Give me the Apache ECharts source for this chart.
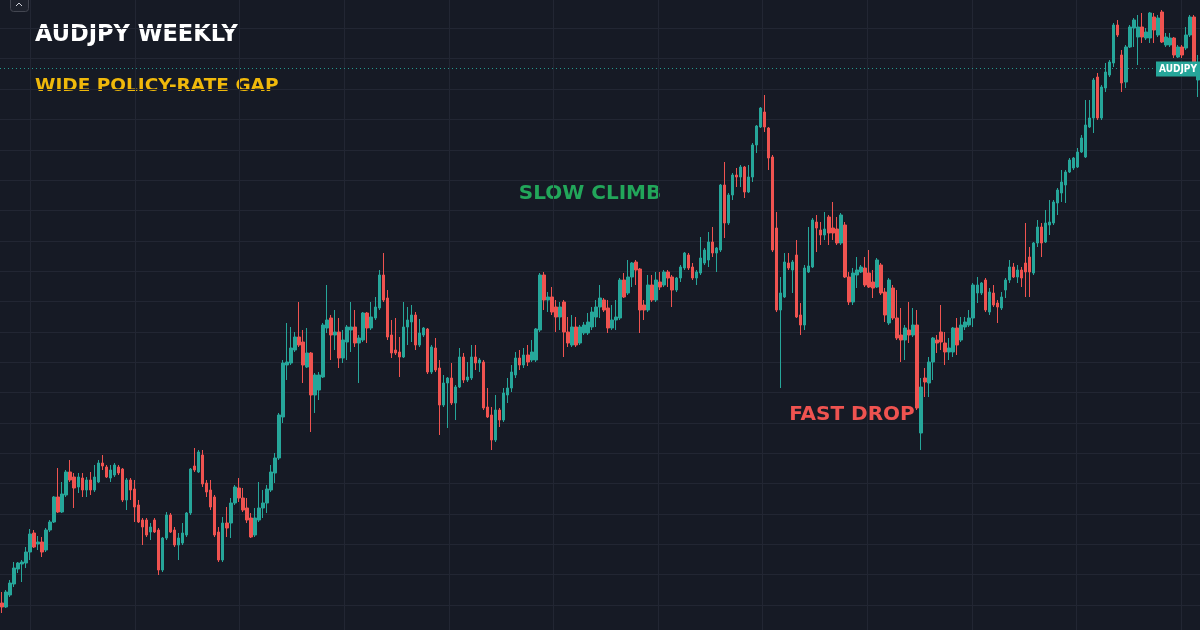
<!DOCTYPE html>
<html>
<head>
<meta charset="utf-8">
<script src="https://cdn.jsdelivr.net/npm/echarts@6/dist/echarts.min.js"></script>
<style>
html,body{margin:0;padding:0;background:#161a25;}
#chart{width:1200px;height:630px;}
</style>
</head>
<body>
<div id="chart"></div>
<script>
// Weekly AUDJPY candles
const opens = [
49.7,49.3,50.5,51.6,53.1,53.6,53.7,54.8,56.7,55.6,
55.8,55.0,57.0,57.8,60.3,58.8,60.5,62.8,62.3,61.3,
62.2,61.0,62.0,61.0,61.8,63.7,63.3,62.2,62.5,63.3,
63.1,60.0,62.0,61.1,59.5,58.0,58.0,56.8,58.0,57.0,
53.0,56.2,58.5,57.0,55.5,55.7,56.5,58.7,63.4,62.8,
64.5,61.7,61.0,60.3,56.8,54.0,57.7,57.7,59.7,61.2,
60.2,59.2,58.2,56.5,58.0,59.2,59.7,61.0,62.7,64.2,
68.3,73.5,73.7,75.0,76.3,75.8,73.3,74.7,70.5,71.0,
72.3,77.2,78.2,76.5,76.8,74.2,75.8,77.0,77.3,75.7,
76.0,78.7,77.2,78.2,79.2,82.5,80.2,76.5,75.0,74.8,
74.3,77.3,77.8,78.5,75.5,76.5,77.1,72.8,75.2,73.2,
69.5,71.7,72.2,69.7,71.3,74.3,72.0,72.2,74.3,73.7,
73.8,69.3,68.5,66.0,69.0,68.0,70.5,71.2,72.5,74.2,
73.5,74.5,74.0,74.0,77.0,82.5,80.0,80.3,79.3,78.3,
79.8,76.8,75.5,77.3,75.7,76.7,76.7,77.3,78.3,79.3,
80.0,79.2,77.2,78.0,78.2,82.0,80.7,82.3,83.8,83.1,
79.5,79.0,81.5,80.0,81.8,81.5,82.8,82.3,81.0,82.2,
83.2,84.5,83.3,82.2,82.7,83.7,84.0,85.8,84.7,85.0,
91.5,87.7,90.5,92.5,92.3,93.3,90.8,92.3,95.5,97.3,
98.8,97.2,94.3,87.2,79.0,80.3,83.7,83.0,84.5,78.5,
77.5,82.8,83.3,87.8,87.0,86.5,88.3,87.2,87.1,85.7,
87.5,82.3,79.8,82.5,82.8,83.2,82.7,81.8,81.3,83.5,
80.8,77.7,81.2,78.2,76.5,76.0,77.0,76.5,77.5,66.7,
72.2,71.7,73.8,76.0,76.8,75.7,74.8,74.8,77.2,76.0,
77.3,77.5,78.2,80.7,80.7,82.0,78.8,80.7,79.7,79.2,
81.0,82.0,83.3,82.3,83.0,83.7,84.3,82.7,85.7,87.3,
85.8,87.5,87.7,89.7,90.7,91.5,92.8,93.2,93.3,94.8,
94.3,97.3,98.2,102.3,98.2,101.2,102.5,103.7,107.5,104.5,
101.8,105.3,107.2,106.3,107.3,106.2,106.2,108.3,106.5,108.8,
105.5,105.5,106.2,104.3,105.3,105.2,106.5,108.3,102.0
];
const closes = [
49.3,50.8,51.7,53.2,53.7,53.8,54.8,56.6,55.3,55.8,
54.8,57.0,57.8,60.3,58.8,60.6,62.8,62.0,61.2,62.3,
61.0,62.0,61.0,62.3,63.7,63.4,62.3,63.0,63.5,62.7,
60.0,62.0,61.0,59.3,57.8,57.3,56.5,57.3,56.8,53.0,
56.2,58.5,56.8,55.5,56.2,56.7,58.7,63.1,63.0,64.8,
61.6,60.8,59.3,56.5,54.0,57.7,57.2,59.7,61.3,60.2,
59.0,58.0,56.3,58.2,59.2,59.7,61.1,62.8,64.2,68.5,
73.7,73.8,75.2,76.3,75.5,73.5,74.7,70.5,72.5,72.5,
77.5,78.0,76.5,76.8,74.2,76.0,77.3,77.3,75.7,76.2,
78.7,77.2,78.3,79.3,82.5,80.0,76.3,74.7,74.7,74.3,
77.3,78.0,78.5,75.5,76.7,77.2,72.8,75.3,73.0,69.5,
71.7,72.2,69.7,71.3,74.3,72.0,72.3,74.3,73.7,74.0,
69.2,68.3,66.0,69.0,68.0,70.7,71.2,72.8,74.2,73.5,
74.5,73.8,74.8,77.1,82.5,80.0,80.3,78.8,78.3,79.3,
76.8,75.7,77.3,75.5,77.3,77.5,77.8,78.8,79.3,80.2,
79.0,77.2,78.0,78.3,82.0,80.3,82.3,83.7,83.0,79.0,
79.0,81.5,80.0,82.0,81.3,82.8,82.2,81.0,82.2,83.3,
84.7,83.2,82.2,82.8,84.2,85.0,85.8,84.7,85.2,91.5,
87.7,90.5,92.5,92.3,93.3,90.8,92.3,95.5,97.4,99.2,
97.3,94.2,85.0,79.0,80.7,83.8,83.2,83.8,78.3,77.5,
83.2,83.4,88.0,87.2,86.5,87.1,86.7,86.7,85.7,88.5,
82.3,79.8,82.7,83.0,83.3,81.5,81.3,81.2,84.0,80.7,
78.5,82.0,78.2,76.2,76.0,77.2,76.5,77.5,69.2,71.3,
71.8,73.8,76.2,75.7,75.8,74.8,75.2,77.2,75.5,77.5,
77.8,78.2,81.5,81.5,81.7,79.0,80.8,79.5,79.3,80.3,
82.0,83.3,82.3,83.0,82.2,82.8,82.8,85.7,87.3,85.7,
87.7,87.8,89.8,91.0,91.8,92.8,94.0,94.2,94.8,96.2,
97.5,98.2,102.0,98.2,101.3,102.8,103.8,107.5,106.5,101.7,
105.3,107.3,108.0,107.3,106.3,106.8,108.7,107.0,108.2,105.8,
106.3,106.2,104.5,105.3,104.5,106.5,108.3,103.8,103.2
];
const lows = [
48.7,49.2,50.3,51.3,52.7,51.8,53.2,54.0,55.2,55.0,
54.3,54.8,56.8,57.7,58.7,58.7,60.3,61.8,59.2,60.7,
60.3,60.3,60.5,60.8,61.7,63.0,62.2,61.8,62.3,62.5,
59.8,59.0,60.0,57.8,57.7,55.5,56.3,56.0,56.7,52.5,
52.8,56.0,56.7,55.3,54.0,55.5,56.3,58.5,62.8,62.7,
61.3,60.3,59.0,56.3,53.8,53.8,56.3,56.2,59.5,59.8,
58.8,57.7,56.2,56.3,57.8,58.2,58.7,60.8,61.7,64.0,
67.7,72.0,73.5,74.8,75.3,71.7,73.2,66.8,68.7,70.0,
72.2,76.7,74.0,75.0,73.2,73.7,74.0,74.8,75.3,71.7,
75.8,75.7,77.0,78.0,79.0,79.8,76.0,74.2,74.5,72.3,
74.2,75.5,75.8,75.0,75.3,76.3,72.6,72.6,72.8,66.5,
69.3,67.2,69.5,68.0,71.2,71.7,71.8,72.0,73.0,72.8,
69.0,68.2,65.0,65.8,67.3,67.8,69.7,70.8,72.2,73.0,
73.2,73.4,73.8,73.8,76.8,79.0,78.8,78.5,76.8,77.0,
74.3,75.3,75.3,75.3,75.5,76.5,76.5,77.0,77.3,78.2,
78.8,76.7,77.0,77.0,78.0,80.2,80.5,81.3,81.5,76.7,
78.0,78.8,79.8,79.8,81.0,81.3,81.3,79.3,80.8,81.8,
83.0,83.0,82.0,81.5,82.5,83.5,83.3,84.3,82.8,84.8,
86.2,87.5,90.0,91.3,91.3,90.2,90.7,91.8,94.7,97.2,
96.8,93.0,84.8,78.8,71.2,80.2,83.0,80.7,78.2,76.5,
77.0,82.7,83.2,84.8,85.5,86.0,85.5,86.0,85.5,85.5,
82.2,79.5,79.5,81.2,82.7,81.3,81.2,80.2,81.2,80.5,
77.8,77.5,78.0,76.0,73.8,74.0,75.7,76.3,69.0,65.0,
70.3,70.3,72.0,74.7,75.0,73.5,74.0,74.3,74.5,75.8,
77.0,77.3,77.3,79.7,80.5,78.8,78.5,79.3,77.7,79.0,
80.2,81.7,82.2,81.7,81.3,80.3,80.3,82.5,85.3,84.3,
85.7,86.5,87.5,88.5,89.8,89.7,92.7,93.0,93.2,94.7,
94.2,97.2,96.7,98.0,98.0,100.8,102.3,103.3,106.3,100.8,
101.2,105.2,105.3,103.5,105.7,106.0,105.7,105.7,106.3,105.7,
105.3,105.3,104.2,104.2,104.2,105.0,106.3,103.3,100.3
];
const highs = [
50.8,51.0,52.0,53.8,53.8,54.0,55.3,57.1,57.0,56.4,
56.3,57.2,58.0,60.4,63.2,61.8,63.0,64.0,62.7,62.7,
62.7,62.3,62.8,63.5,64.0,64.5,63.5,63.5,63.7,63.5,
63.2,62.2,62.2,62.0,60.0,58.2,58.2,57.7,58.2,57.2,
56.3,58.8,58.7,57.3,56.7,57.7,58.8,63.2,65.2,65.0,
65.0,62.0,62.0,60.5,57.3,58.3,59.3,60.2,61.5,62.2,
61.2,60.2,58.7,59.2,61.8,61.0,61.5,63.5,64.7,68.7,
74.0,77.7,77.3,76.8,79.8,77.0,77.2,74.8,72.7,72.8,
77.7,81.5,78.5,79.0,78.2,77.0,77.5,79.8,79.0,76.5,
78.8,78.8,79.8,80.3,83.0,84.7,81.0,78.0,78.2,76.3,
79.8,79.3,79.5,78.8,78.1,77.3,77.2,75.5,76.2,74.0,
72.5,72.3,73.7,71.5,75.2,74.7,73.8,75.5,75.5,74.2,
74.0,71.2,69.3,70.5,69.2,71.2,72.2,73.5,74.8,75.0,
75.2,75.5,76.0,77.2,82.7,82.8,80.8,81.3,80.0,79.8,
80.0,78.3,78.5,78.3,77.5,77.8,78.7,79.3,80.0,81.5,
80.2,80.0,79.5,80.0,82.2,82.7,84.0,83.8,84.0,83.2,
80.0,82.5,82.5,82.8,82.8,83.0,83.0,82.5,82.3,83.5,
84.8,84.7,83.7,83.0,86.3,85.2,86.8,87.3,85.3,91.6,
93.8,90.7,92.7,93.2,93.5,93.4,93.5,95.7,97.5,99.3,
100.5,97.3,94.5,88.8,82.3,84.7,84.7,84.0,86.0,79.7,
83.5,87.3,88.2,88.5,87.8,88.8,88.5,89.8,88.3,88.7,
87.8,82.8,83.2,84.3,83.5,84.3,85.0,83.0,84.2,83.7,
81.2,82.2,81.5,81.0,79.2,77.5,79.8,79.2,79.0,72.2,
73.2,74.3,76.3,76.5,79.5,76.8,76.2,77.3,78.2,78.3,
78.3,79.0,81.7,82.3,81.8,82.2,81.2,81.5,80.0,80.8,
82.2,84.0,83.7,83.5,83.3,87.7,85.3,85.8,88.0,87.7,
89.0,90.0,90.0,91.2,93.0,93.0,94.2,94.3,95.2,96.5,
100.0,100.0,102.2,102.7,101.5,103.7,104.0,107.7,108.0,105.0,
105.5,107.5,108.2,108.5,108.7,107.2,108.8,108.7,108.5,109.0,
106.7,106.7,106.3,105.5,105.5,107.3,108.5,108.5,104.5
];
const weeks = opens.map((_, i) => 'W' + (i + 1));
const symbolName = 'AUDJPY';
const titleText = 'AUDJPY WEEKLY';
const subtitleText = 'WIDE POLICY-RATE GAP';
const noteClimb = 'SLOW CLIMB';
const noteDrop = 'FAST DROP';

const UP = '#26a69a', DOWN = '#ef5350';
const GRIDC = '#222633';
const candles = opens.map((o, i) => [o, closes[i], lows[i], highs[i]]);
const lastIdx = closes.length - 1;
const lastClose = closes[lastIdx];

const hidden = {axisLine: {show: false}, axisTick: {show: false}, axisLabel: {show: false}};
const chart = echarts.init(document.getElementById('chart'), null, {renderer: 'canvas'});
chart.setOption({
  backgroundColor: '#161a25',
  animation: false,
  grid: [
    {left: 0, right: 0, top: 0, bottom: 0},
    {left: 30.5, right: 0, top: 0, bottom: 0},
    {left: 0, right: 0, top: 0, bottom: 25}
  ],
  xAxis: [
    Object.assign({type: 'category', data: weeks, gridIndex: 0, boundaryGap: true, splitLine: {show: false}}, hidden),
    Object.assign({type: 'value', gridIndex: 1, min: 0, max: 1169.5 / 104.6, interval: 1,
     splitLine: {show: true, showMinLine: true, showMaxLine: false, lineStyle: {color: GRIDC, width: 1}}}, hidden),
    Object.assign({type: 'value', gridIndex: 2, min: 0, max: 1, splitLine: {show: false}}, hidden)
  ],
  yAxis: [
    Object.assign({type: 'value', gridIndex: 0, min: 47, max: 110, splitLine: {show: false}}, hidden),
    Object.assign({type: 'value', gridIndex: 1, min: 0, max: 1, splitLine: {show: false}}, hidden),
    Object.assign({type: 'value', gridIndex: 2, min: 0, max: 605 / 30.35, interval: 1,
     splitLine: {show: true, showMinLine: true, showMaxLine: false, lineStyle: {color: GRIDC, width: 1}}}, hidden)
  ],
  series: [
    {type: 'scatter', xAxisIndex: 1, yAxisIndex: 1, data: [], silent: true},
    {type: 'scatter', xAxisIndex: 2, yAxisIndex: 2, data: [], silent: true},
    {
      type: 'candlestick', name: symbolName, xAxisIndex: 0, yAxisIndex: 0,
      data: candles, barWidth: 3,
      itemStyle: {color: UP, color0: DOWN, borderColor: UP, borderColor0: DOWN, borderWidth: 1},
      markLine: {
        silent: true, symbol: ['none', 'none'], animation: false,
        lineStyle: {color: UP, type: [1, 3], width: 1, opacity: 0.9},
        label: {show: false},
        data: [{yAxis: lastClose}]
      },
      markPoint: {
        silent: true, animation: false,
        data: [{coord: [lastIdx, lastClose], value: symbolName}],
        symbol: 'rect', symbolSize: [44, 15], symbolOffset: [-20, 1],
        itemStyle: {color: UP},
        label: {show: true, formatter: symbolName, color: '#ffffff', fontSize: 10, fontWeight: 'bold',
                fontFamily: 'DejaVu Sans Condensed, DejaVu Sans, sans-serif'}
      }
    }
  ],
  graphic: [
    {type: 'rect', left: 10, top: -4, shape: {width: 18, height: 15, r: 3},
     style: {fill: '#1e222d', stroke: '#434651', lineWidth: 1}},
    {type: 'polyline', shape: {points: [[16, 6], [19, 3], [22, 6]]},
     style: {stroke: '#d1d4dc', lineWidth: 1, fill: null}},
    {type: 'text', x: 35, y: 35,
     style: {text: titleText, fill: '#ffffff', font: 'bold 22.5px "DejaVu Sans"', verticalAlign: 'middle', align: 'left'}},
    {type: 'text', x: 35, y: 86,
     style: {text: subtitleText, fill: '#f0b90b', font: 'bold 18.5px "DejaVu Sans"', verticalAlign: 'middle', align: 'left'}},
    {type: 'text', x: 590, y: 194,
     style: {text: noteClimb, fill: '#22a65a', font: 'bold 20px "DejaVu Sans"', verticalAlign: 'middle', align: 'center'}},
    {type: 'text', x: 852, y: 415,
     style: {text: noteDrop, fill: '#ef5350', font: 'bold 20px "DejaVu Sans"', verticalAlign: 'middle', align: 'center'}}
  ]
});
</script>
</body>
</html>
